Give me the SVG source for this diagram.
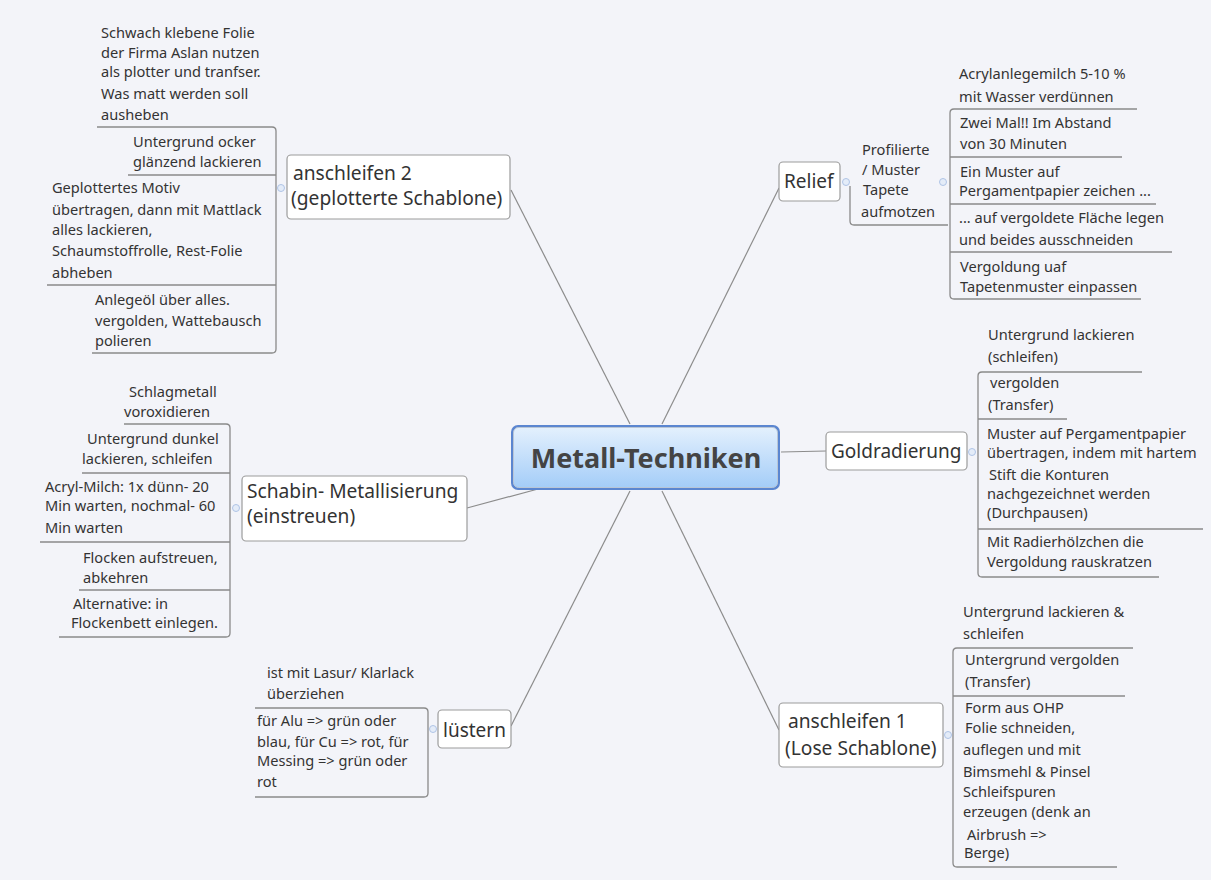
<svg xmlns="http://www.w3.org/2000/svg" width="1211" height="880" viewBox="0 0 1211 880">
<defs>
<linearGradient id="cg" x1="0" y1="0" x2="0" y2="1">
<stop offset="0" stop-color="#e3f0fd"/>
<stop offset="1" stop-color="#a4cdf8"/>
</linearGradient>
<style>
.bg{fill:#f3f4f9}
.t{font-family:"Noto Sans","Open Sans",sans-serif;font-size:14.6px;fill:#333}
.m{font-family:"Noto Sans","Open Sans",sans-serif;font-size:19.2px;fill:#333}
.s{font-family:"Noto Sans","Open Sans",sans-serif;font-size:19px;fill:#333}
.box{fill:#fff;stroke:#9c9c9c;stroke-width:1.2}
.con{stroke:#8c8c8c;stroke-width:1.2;fill:none}
.ul{stroke:#8a8a8a;stroke-width:1.3;fill:none}
.cc{fill:#e4ecf8;stroke:#afc4e6;stroke-width:1}
</style>
</defs>
<rect class="bg" x="0" y="0" width="1211" height="880"/>

<g id="connectors">
<line class="con" x1="630" y1="424" x2="511" y2="190"/>
<line class="con" x1="662" y1="424" x2="779" y2="188"/>
<line class="con" x1="781" y1="452" x2="826" y2="451"/>
<line class="con" x1="662" y1="491" x2="779" y2="730"/>
<line class="con" x1="630" y1="491" x2="511" y2="726"/>
<line class="con" x1="538" y1="489" x2="467" y2="508"/>
<path class="ul" d="M97 127 H272 Q276 127 276 131 V349 Q276 353 272 353 H92"/>
<path class="ul" d="M128 175 H276"/>
<path class="ul" d="M47 285 H276"/>
<path class="ul" d="M124 424 H226 Q230 424 230 428 V633 Q230 637 226 637 H59"/>
<path class="ul" d="M82 473 H230"/>
<path class="ul" d="M40 542 H230"/>
<path class="ul" d="M79 590 H230"/>
<path class="ul" d="M255 708 H424 Q428 708 428 712 V793 Q428 797 424 797 H255"/>
<path class="ul" d="M850 186 V221 Q850 225 854 225 H948"/>
<path class="ul" d="M1137 109 H954 Q950 109 950 113 V295 Q950 299 954 299 H1141"/>
<path class="ul" d="M950 157 H1122"/>
<path class="ul" d="M950 204 H1156"/>
<path class="ul" d="M950 252 H1172"/>
<path class="ul" d="M1142 372 H982 Q978 372 978 376 V573 Q978 577 982 577 H1159"/>
<path class="ul" d="M978 419 H1067"/>
<path class="ul" d="M978 529 H1203"/>
<path class="ul" d="M1133 648 H957 Q953 648 953 652 V863 Q953 867 957 867 H1117"/>
<path class="ul" d="M953 696 H1125"/>
</g>

<g id="center">
<rect x="511" y="425" width="269" height="65" rx="7" fill="#5b86d0"/>
<rect x="513.5" y="427.5" width="264" height="60" rx="5" fill="url(#cg)" stroke="#b9c6d6" stroke-width="1"/>
<text x="646" y="468" text-anchor="middle" font-family="'Noto Sans','Open Sans',sans-serif" font-size="27" font-weight="bold" fill="#444">Metall-Techniken</text>
</g>

<g id="anschleifen2">
<rect class="box" x="287" y="155" width="223" height="64" rx="4"/>
<text class="m" x="293" y="180">anschleifen 2</text>
<text class="m" x="291" y="205">(geplotterte Schablone)</text>
<circle class="cc" cx="281" cy="188" r="3.5"/>
</g>
<g id="a2c1"><text class="t" x="101" y="38">Schwach klebene Folie</text><text class="t" x="101" y="58">der Firma Aslan nutzen</text><text class="t" x="101" y="77">als plotter und tranfser.</text><text class="t" x="101" y="99">Was matt werden soll</text><text class="t" x="101" y="120">ausheben</text></g>
<g id="a2c2"><text class="t" x="133" y="147">Untergrund ocker</text><text class="t" x="133" y="167">glänzend lackieren</text></g>
<g id="a2c3"><text class="t" x="52" y="193">Geplottertes Motiv</text><text class="t" x="52" y="215">übertragen, dann mit Mattlack</text><text class="t" x="52" y="235">alles lackieren,</text><text class="t" x="52" y="256">Schaumstoffrolle, Rest-Folie</text><text class="t" x="52" y="278">abheben</text></g>
<g id="a2c4"><text class="t" x="95" y="305">Anlegeöl über alles.</text><text class="t" x="95" y="326">vergolden, Wattebausch</text><text class="t" x="95" y="346">polieren</text></g>

<g id="schabin">
<rect class="box" x="242" y="476" width="225" height="65" rx="4"/>
<text class="m" x="247" y="498">Schabin- Metallisierung</text>
<text class="m" x="247" y="523">(einstreuen)</text>
<circle class="cc" cx="236" cy="508" r="3.5"/>
</g>
<g id="sc1"><text class="t" x="129" y="397">Schlagmetall</text><text class="t" x="124" y="417">voroxidieren</text></g>
<g id="sc2"><text class="t" x="87" y="444">Untergrund dunkel</text><text class="t" x="82" y="464">lackieren, schleifen</text></g>
<g id="sc3"><text class="t" x="45" y="492">Acryl-Milch: 1x dünn- 20</text><text class="t" x="45" y="511">Min warten, nochmal- 60</text><text class="t" x="45" y="533">Min warten</text></g>
<g id="sc4"><text class="t" x="83" y="563">Flocken aufstreuen,</text><text class="t" x="83" y="583">abkehren</text></g>
<g id="sc5"><text class="t" x="73" y="609">Alternative: in</text><text class="t" x="71" y="628">Flockenbett einlegen.</text></g>

<g id="luestern">
<rect class="box" x="438" y="710" width="73" height="38" rx="4"/>
<text class="s" x="443" y="737">lüstern</text>
<circle class="cc" cx="433" cy="729" r="3.5"/>
</g>
<g id="lc1"><text class="t" x="267" y="678">ist mit Lasur/ Klarlack</text><text class="t" x="267" y="699">überziehen</text></g>
<g id="lc2"><text class="t" x="257" y="726">für Alu =&gt; grün oder</text><text class="t" x="257" y="747">blau, für Cu =&gt; rot, für</text><text class="t" x="257" y="766">Messing =&gt; grün oder</text><text class="t" x="257" y="787">rot</text></g>

<g id="relief">
<rect class="box" x="779" y="162" width="61" height="39" rx="4"/>
<text class="s" x="784" y="188">Relief</text>
<circle class="cc" cx="846" cy="182" r="3.5"/>
</g>
<g id="profilierte"><text class="t" x="862" y="155">Profilierte</text><text class="t" x="862" y="175">/ Muster</text><text class="t" x="863" y="195">Tapete</text><text class="t" x="861" y="217">aufmotzen</text>
<circle class="cc" cx="943" cy="182" r="3.5"/></g>
<g id="rc1"><text class="t" x="959" y="79">Acrylanlegemilch 5-10 %</text><text class="t" x="959" y="102">mit Wasser verdünnen</text></g>
<g id="rc2"><text class="t" x="960" y="128">Zwei Mal!! Im Abstand</text><text class="t" x="960" y="149">von 30 Minuten</text></g>
<g id="rc3"><text class="t" x="960" y="177">Ein Muster auf</text><text class="t" x="959" y="196">Pergamentpapier zeichen ...</text></g>
<g id="rc4"><text class="t" x="959" y="223">... auf vergoldete Fläche legen</text><text class="t" x="959" y="245">und beides ausschneiden</text></g>
<g id="rc5"><text class="t" x="960" y="272">Vergoldung uaf</text><text class="t" x="960" y="292">Tapetenmuster einpassen</text></g>

<g id="goldradierung">
<rect class="box" x="826" y="432" width="141" height="38" rx="4"/>
<text class="s" x="831" y="458">Goldradierung</text>
<circle class="cc" cx="972" cy="452" r="3.5"/>
</g>
<g id="gc1"><text class="t" x="988" y="340">Untergrund lackieren</text><text class="t" x="988" y="362">(schleifen)</text></g>
<g id="gc2"><text class="t" x="990" y="388">vergolden</text><text class="t" x="988" y="410">(Transfer)</text></g>
<g id="gc3"><text class="t" x="987" y="439">Muster auf Pergamentpapier</text><text class="t" x="987" y="458">übertragen, indem mit hartem</text><text class="t" x="989" y="480">Stift die Konturen</text><text class="t" x="987" y="499">nachgezeichnet werden</text><text class="t" x="987" y="518">(Durchpausen)</text></g>
<g id="gc4"><text class="t" x="987" y="547">Mit Radierhölzchen die</text><text class="t" x="987" y="567">Vergoldung rauskratzen</text></g>

<g id="anschleifen1">
<rect class="box" x="779" y="703" width="164" height="64" rx="4"/>
<text class="m" x="788" y="728">anschleifen 1</text>
<text class="m" x="785" y="755">(Lose Schablone)</text>
<circle class="cc" cx="948" cy="735" r="3.5"/>
</g>
<g id="ac1"><text class="t" x="963" y="617">Untergrund lackieren &amp;</text><text class="t" x="963" y="639">schleifen</text></g>
<g id="ac2"><text class="t" x="965" y="665">Untergrund vergolden</text><text class="t" x="965" y="687">(Transfer)</text></g>
<g id="ac3"><text class="t" x="965" y="713">Form aus OHP</text><text class="t" x="965" y="733">Folie schneiden,</text><text class="t" x="963" y="755">auflegen und mit</text><text class="t" x="963" y="777">Bimsmehl &amp; Pinsel</text><text class="t" x="963" y="797">Schleifspuren</text><text class="t" x="963" y="817">erzeugen (denk an</text><text class="t" x="967" y="840">Airbrush =&gt;</text><text class="t" x="964" y="858">Berge)</text></g>
</svg>
